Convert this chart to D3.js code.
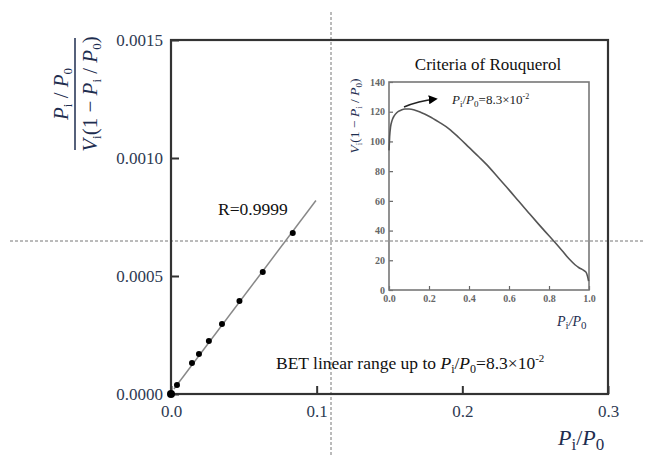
<!DOCTYPE html>
<html>
<head>
<meta charset="utf-8">
<script src="https://cdn.jsdelivr.net/npm/d3@7"></script>
<style>
  body { margin: 0; background: #fff; }
  svg { display: block; }
  svg text { font-family: "Liberation Serif", "Times New Roman", serif; }
</style>
</head>
<body>
<svg id="chart" width="645" height="455"></svg>
<script>
// BET plot points
const betX = [0, 0.0041, 0.0144, 0.0192, 0.026, 0.035, 0.047, 0.063, 0.0836];
const betY = [0, 0.000038, 0.000131, 0.000169, 0.000225, 0.000297, 0.000394, 0.000517, 0.000682];
// fitted line end points
const fitX = [0.002, 0.0995];
const fitY = [0.000021, 0.00082];
const mainXTicks = [0, 0.1, 0.2, 0.3];
const mainYTicks = [0, 0.0005, 0.0010, 0.0015];

// inset: Rouquerol curve
const rouX = [0.0, 0.003, 0.008, 0.015, 0.025, 0.04, 0.06, 0.08, 0.1, 0.13, 0.16, 0.2, 0.25, 0.3, 0.35,
  0.4, 0.45, 0.5, 0.55, 0.6, 0.65, 0.7, 0.75, 0.8, 0.85, 0.9, 0.93, 0.95, 0.97, 0.985, 0.993, 0.998];
const rouY = [94, 103, 110, 114, 117, 119.5, 121, 121.8, 121.8, 121, 119.5, 117, 113, 108.5, 102.5,
  96, 89.5, 82.7, 75, 67.4, 59.5, 51.7, 44, 36.5, 29, 21, 17, 15, 13.5, 12, 9, 6];
const insetXTicks = [0, 0.2, 0.4, 0.6, 0.8, 1.0];
const insetYTicks = [0, 20, 40, 60, 80, 100, 120, 140];

const navy = '#1e2d4f';
const serif = '"Liberation Serif", "Times New Roman", serif';
const svg = d3.select('#chart');

/*辅助虚线*/
svg.append('line').attr('x1', 10).attr('x2', 645).attr('y1', 241).attr('y2', 241)
  .attr('stroke', '#777').attr('stroke-dasharray', '3,2');
svg.append('line').attr('x1', 331).attr('x2', 331).attr('y1', 12).attr('y2', 455)
  .attr('stroke', '#777').attr('stroke-dasharray', '3,2');

/*主图*/
let x = d3.scaleLinear().domain([0, 0.3]).range([171, 608]);
let y = d3.scaleLinear().domain([0, 0.0015]).range([394, 40]);

let gx = svg.append('g').attr('transform', 'translate(0,394)');
gx.call(d3.axisBottom(x).tickValues(d3.range(0.05, 0.3, 0.1)).tickSize(-5).tickFormat(''));
gx.call(d3.axisBottom(x).tickValues(mainXTicks).tickSize(-8).tickPadding(11).tickFormat(d3.format('.1f')));

let gy = svg.append('g').attr('transform', 'translate(171,0)');
gy.call(d3.axisLeft(y).tickValues([0.00025, 0.00075, 0.00125]).tickSize(-5).tickFormat(''));
gy.call(d3.axisLeft(y).tickValues(mainYTicks).tickSize(-8).tickPadding(8).tickFormat(d3.format('.4f')));

svg.selectAll('.domain').remove();
[gx, gy].forEach(g => {
  g.attr('font-family', serif).attr('font-size', 17);
  g.selectAll('line').attr('stroke', '#333').attr('stroke-width', 2);
  g.selectAll('text').attr('fill', '#2e3a52');
});

svg.append('rect').attr('x', 171).attr('y', 40).attr('width', 437).attr('height', 354)
  .attr('fill', 'none').attr('stroke', '#333').attr('stroke-width', 2.2);

// 拟合线
svg.append('line')
  .attr('x1', x(fitX[0])).attr('y1', y(fitY[0]))
  .attr('x2', x(fitX[1])).attr('y2', y(fitY[1]))
  .attr('stroke', '#888').attr('stroke-width', 1.5);

svg.selectAll('circle.bet').data(betX).enter().append('circle')
  .attr('class', 'bet')
  .attr('cx', d => x(d)).attr('cy', (d, i) => y(betY[i]))
  .attr('r', (d, i) => i === 0 ? 4 : 3)
  .attr('fill', '#000');

svg.append('text').attr('x', 218).attr('y', 215).attr('font-size', 17.5).attr('fill', '#111')
  .text('R=0.9999');

let bet = svg.append('text').attr('x', 276).attr('y', 369).attr('font-size', 17.5).attr('fill', '#111');
bet.append('tspan').text('BET linear range up to ');
bet.append('tspan').attr('font-style', 'italic').text('P');
bet.append('tspan').attr('font-size', 12).attr('dy', 4).text('i');
bet.append('tspan').attr('dy', -4).text('/');
bet.append('tspan').attr('font-style', 'italic').text('P');
bet.append('tspan').attr('font-size', 12).attr('dy', 4).text('0');
bet.append('tspan').attr('dy', -4).text('=8.3×10');
bet.append('tspan').attr('font-size', 11).attr('dy', -7).text('-2');

// y 轴标题（分式）
let yt = svg.append('g').attr('transform', 'translate(75,94) rotate(-90)').attr('fill', navy);
yt.append('line').attr('x1', -56).attr('x2', 56).attr('y1', 0).attr('y2', 0)
  .attr('stroke', navy).attr('stroke-width', 1.5);
let num = yt.append('text').attr('text-anchor', 'middle').attr('y', -7).attr('font-size', 21);
num.append('tspan').attr('font-style', 'italic').text('P');
num.append('tspan').attr('font-size', 13).attr('dy', 4).text('i');
num.append('tspan').attr('dy', -4).text(' / ');
num.append('tspan').attr('font-style', 'italic').text('P');
num.append('tspan').attr('font-size', 13).attr('dy', 4).text('0');
let den = yt.append('text').attr('text-anchor', 'middle').attr('y', 22).attr('font-size', 21);
den.append('tspan').attr('font-style', 'italic').text('V');
den.append('tspan').attr('font-size', 13).attr('dy', 4).text('i');
den.append('tspan').attr('dy', -4).text('(1 − ');
den.append('tspan').attr('font-style', 'italic').text('P');
den.append('tspan').attr('font-size', 13).attr('dy', 4).text('i');
den.append('tspan').attr('dy', -4).text(' / ');
den.append('tspan').attr('font-style', 'italic').text('P');
den.append('tspan').attr('font-size', 13).attr('dy', 4).text('0');
den.append('tspan').attr('dy', -4).text(')');

// x 轴标题
let xt = svg.append('text').attr('x', 558).attr('y', 445).attr('font-size', 22).attr('fill', navy)
  .attr('font-style', 'italic');
xt.append('tspan').text('P');
xt.append('tspan').attr('font-size', 17).attr('font-style', 'normal').attr('dy', 5).text('i');
xt.append('tspan').attr('dy', -5).attr('font-style', 'normal').text('/');
xt.append('tspan').text('P');
xt.append('tspan').attr('font-size', 17).attr('font-style', 'normal').attr('dy', 5).text('0');

/*插图*/
let xi = d3.scaleLinear().domain([0, 1]).range([389, 589]);
let yi = d3.scaleLinear().domain([0, 140]).range([290, 82]);

svg.append('text').attr('x', 488).attr('y', 70).attr('text-anchor', 'middle')
  .attr('font-size', 17).attr('fill', '#111').text('Criteria of Rouquerol');

let gxi = svg.append('g').attr('transform', 'translate(0,290)');
gxi.call(d3.axisBottom(xi).tickValues(d3.range(0.1, 1, 0.2)).tickSize(-2.5).tickFormat(''));
gxi.call(d3.axisBottom(xi).tickValues(insetXTicks).tickSize(-4).tickPadding(5).tickFormat(d3.format('.1f')));
let gyi = svg.append('g').attr('transform', 'translate(389,0)');
gyi.call(d3.axisLeft(yi).tickValues(d3.range(10, 140, 20)).tickSize(-2.5).tickFormat(''));
gyi.call(d3.axisLeft(yi).tickValues(insetYTicks).tickSize(-4).tickPadding(4).tickFormat(d3.format('d')));
[gxi, gyi].forEach(g => {
  g.attr('font-family', serif).attr('font-size', 10);
  g.selectAll('.domain').remove();
  g.selectAll('line').attr('stroke', '#666').attr('stroke-width', 1.2);
  g.selectAll('text').attr('font-weight', 'bold').attr('fill', '#666');
});

svg.append('rect').attr('x', 389).attr('y', 82).attr('width', 200).attr('height', 208)
  .attr('fill', 'none').attr('stroke', '#777').attr('stroke-width', 1.6);

let curve = d3.line().x(d => xi(d[0])).y(d => yi(d[1])).curve(d3.curveMonotoneX);
svg.append('path').datum(rouX.map((d, i) => [d, rouY[i]]))
  .attr('d', curve).attr('fill', 'none').attr('stroke', '#555').attr('stroke-width', 1.6);

// 箭头
svg.append('defs').append('marker').attr('id', 'arrow')
  .attr('viewBox', '0 0 10 10').attr('refX', 8).attr('refY', 5)
  .attr('markerWidth', 6).attr('markerHeight', 6).attr('orient', 'auto')
  .append('path').attr('d', 'M0,0 L10,5 L0,10 z').attr('fill', '#000');
svg.append('path').attr('d', 'M404,107 Q418,101 436,99')
  .attr('fill', 'none').attr('stroke', '#222').attr('stroke-width', 1.5)
  .attr('marker-end', 'url(#arrow)');

let ann = svg.append('text').attr('x', 452).attr('y', 104).attr('font-size', 13).attr('fill', '#222');
ann.append('tspan').attr('font-style', 'italic').text('P');
ann.append('tspan').attr('font-size', 9).attr('dy', 3).text('i');
ann.append('tspan').attr('dy', -3).text('/');
ann.append('tspan').attr('font-style', 'italic').text('P');
ann.append('tspan').attr('font-size', 9).attr('dy', 3).text('0');
ann.append('tspan').attr('dy', -3).text('=8.3×10');
ann.append('tspan').attr('font-size', 8).attr('dy', -5).text('-2');

// 插图 y 标题
let yti = svg.append('text').attr('transform', 'translate(359,116) rotate(-90)')
  .attr('text-anchor', 'middle').attr('font-size', 13.5).attr('fill', navy);
yti.append('tspan').attr('font-style', 'italic').text('V');
yti.append('tspan').attr('font-size', 9).attr('dy', 3).text('i');
yti.append('tspan').attr('dy', -3).text('(1 − ');
yti.append('tspan').attr('font-style', 'italic').text('P');
yti.append('tspan').attr('font-size', 9).attr('dy', 3).text('i');
yti.append('tspan').attr('dy', -3).text(' / ');
yti.append('tspan').attr('font-style', 'italic').text('P');
yti.append('tspan').attr('font-size', 9).attr('dy', 3).text('0');
yti.append('tspan').attr('dy', -3).text(')');

// 插图 x 标题
let xti = svg.append('text').attr('x', 557).attr('y', 326).attr('font-size', 14).attr('fill', navy)
  .attr('font-style', 'italic');
xti.append('tspan').text('P');
xti.append('tspan').attr('font-size', 11).attr('font-style', 'normal').attr('dy', 3).text('i');
xti.append('tspan').attr('dy', -3).text('/');
xti.append('tspan').text('P');
xti.append('tspan').attr('font-size', 11).attr('font-style', 'normal').attr('dy', 3).text('0');
</script>
</body>
</html>
